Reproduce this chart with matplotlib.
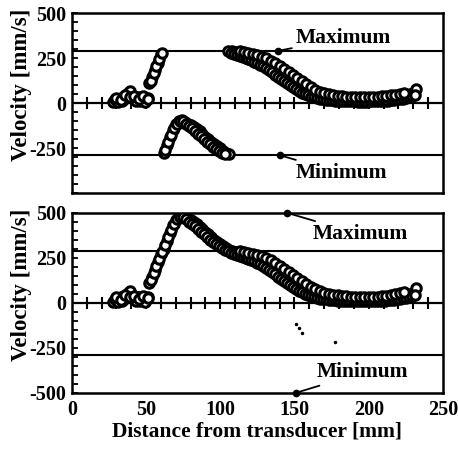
import matplotlib.pyplot as plt
from matplotlib.ticker import MultipleLocator

# distance from transducer [mm], first sweep
distance = [28, 30, 32, 34, 36, 38, 40, 42, 44, 46, 48, 50, 52, 54, 56, 58, 60,
            62, 64, 66, 68, 70, 72, 74, 76, 78, 80, 82, 84, 86, 88, 90, 92, 94,
            96, 98, 100, 102, 104, 106, 108, 110, 112, 114, 116, 118, 120, 122,
            124, 126, 128, 130, 132, 134, 136, 138, 140, 142, 144, 146, 148, 150,
            152, 154, 156, 158, 160, 162, 164, 166, 168, 170, 172, 174, 176, 178,
            180, 182, 184, 186, 188, 190, 192, 194, 196, 198, 200, 202, 204, 206,
            208, 210, 212, 214, 216, 218, 220, 222, 224, 226, 228, 230, 232]

# measured (aliased) velocity [mm/s], first sweep
velocity_raw = [5, 15, 25, 10, 35, 55, 45, 20, 30, 10, 25, 15, 110, 145, 185, 225, 275,
                -280, -235, -190, -150, -118, -100, -95, -105, -115, -122, -132, -144,
                -158, -172, -186, -200, -214, -228, -240, -252, -264, -276, -285,
                288, 285, 280, 276, 272, 266, 262, 256, 250, 244, 236, 228, 218, 208,
                198, 186, 174, 162, 150, 138, 126, 114, 102, 90, 80, 68, 58, 50, 44,
                40, 36, 33, 31, 29, 27, 26, 24, 22, 21, 20, 19, 18, 17, 16, 16, 15,
                15, 16, 17, 18, 19, 20, 22, 24, 26, 28, 31, 34, 38, 42, 48, 55, 80]

# corrected velocity [mm/s], first sweep
velocity_corrected = [5, 15, 25, 10, 35, 55, 45, 20, 30, 10, 25, 15, 110, 145, 185, 225, 270,
                      300, 345, 390, 430, 462, 480, 485, 475, 465, 458, 448, 436, 422,
                      408, 394, 380, 366, 352, 340, 328, 316, 304, 295, 288, 284, 280,
                      276, 272, 266, 262, 256, 250, 244, 236, 228, 218, 208, 198, 186,
                      174, 162, 150, 138, 126, 114, 102, 90, 80, 68, 58, 50, 44, 40, 36,
                      33, 31, 29, 27, 26, 24, 22, 21, 20, 19, 18, 17, 16, 16, 15, 15, 16,
                      17, 18, 19, 20, 22, 24, 26, 28, 31, 34, 38, 42, 48, 55, 80]

# second sweep
distance_b = [29, 31, 33, 35, 37, 39, 41, 43, 45, 47, 49, 51, 53, 55, 57, 59, 61,
              63, 65, 67, 69, 71, 73, 75, 77, 79, 81, 83, 85, 87, 89, 91, 93, 95,
              97, 99, 101, 103, 105, 107, 109, 111, 113, 115, 117, 119, 121, 123,
              125, 127, 129, 131, 133, 135, 137, 139, 141, 143, 145, 147, 149, 151,
              153, 155, 157, 159, 161, 163, 165, 167, 169, 171, 173, 175, 177, 179,
              181, 183, 185, 187, 189, 191, 193, 195, 197, 199, 201, 203, 205, 207,
              209, 211, 213, 215, 217, 219, 221, 223, 225, 227, 229, 231]

velocity_raw_b = [20, 5, 30, 20, 40, 65, 30, 10, 35, 20, 5, 30, 125, 165, 205, 245, 280,
                  -260, -215, -175, -140, -115, -102, -102, -115, -130, -140, -155, -170,
                  -185, -200, -215, -230, -242, -255, -265, -275, -284, 288, 278, 272,
                  266, 262, 256, 250, 244, 238, 230, 222, 214, 204, 194, 182, 170, 158,
                  146, 134, 122, 110, 98, 88, 78, 68, 58, 50, 42, 36, 31, 27, 24, 21,
                  19, 17, 15, 14, 13, 12, 11, 10, 10, 9, 9, 8, 8, 8, 8, 9, 9, 10, 11,
                  12, 13, 14, 16, 18, 20, 22, 25, 28, 32, 38, 45]

velocity_corrected_b = [20, 5, 30, 20, 40, 65, 30, 10, 35, 20, 5, 30, 125, 165, 205, 245, 280,
                        320, 365, 405, 440, 465, 478, 478, 465, 450, 440, 425, 410, 395,
                        380, 365, 350, 338, 325, 315, 305, 296, 288, 278, 272, 266, 262,
                        256, 250, 244, 238, 230, 222, 214, 204, 194, 182, 170, 158, 146,
                        134, 122, 110, 98, 88, 78, 68, 58, 50, 42, 36, 31, 27, 24, 21, 19,
                        17, 15, 14, 13, 12, 11, 10, 10, 9, 9, 8, 8, 8, 8, 9, 9, 10, 11, 12,
                        13, 14, 16, 18, 20, 22, 25, 28, 32, 38, 45]

# third sweep (within the unaliased range, same in both panels)
distance_c = [30, 33, 36, 39, 42, 45, 48, 51,
              113, 116, 119, 122, 125, 128, 131, 134, 137, 140, 143, 146, 149, 152,
              155, 158, 161, 164, 167, 170, 173, 176, 179, 182, 185, 188, 191, 194,
              197, 200, 203, 206, 209, 212, 215, 218, 221, 224]

velocity_c = [30, 15, 45, 35, 40, 20, 40, 25,
              288, 284, 278, 272, 266, 258, 248, 236, 222, 206, 190, 172, 155, 138,
              120, 104, 88, 75, 64, 56, 50, 45, 41, 38, 36, 34, 33, 32,
              32, 32, 33, 35, 37, 40, 43, 47, 52, 58]

spurious_x = [151, 153, 155, 177]
spurious_v = [-115, -140, -165, -218]

v_max = 290
v_min = -290
zero_ticks = [10, 20, 30, 40, 50, 60, 70, 80, 90, 100, 110, 120, 130, 140, 150, 160,
              170, 180, 190, 200, 210, 220, 230, 240]
x_ticks = [0, 50, 100, 150, 200, 250]

plt.rcParams['font.family'] = ['Liberation Serif', 'DejaVu Serif']
plt.rcParams['font.weight'] = 'bold'

fig = plt.figure(figsize=(4.58, 4.51), dpi=100)
ax1 = fig.add_axes([0.157, 0.572, 0.81, 0.399])
ax2 = fig.add_axes([0.157, 0.129, 0.81, 0.399])


def setup(ax, yticks):
    ax.set_xlim(0, 250)
    ax.set_ylim(-500, 500)
    for sp in ax.spines.values():
        sp.set_linewidth(1.8)
    ax.axhline(0, color='black', lw=1.6, zorder=1)
    ax.axhline(v_max, color='black', lw=1.5, zorder=1)
    ax.axhline(v_min, color='black', lw=1.5, zorder=1)
    ax.plot(zero_ticks, [0] * len(zero_ticks), ls='none', marker='|',
            ms=8, mew=1.5, color='black', zorder=1)
    ax.set_yticks(yticks)
    ax.set_yticklabels([str(t) for t in yticks])
    ax.yaxis.set_minor_locator(MultipleLocator(50))
    ax.tick_params(axis='y', which='both', direction='in', length=4, width=1.3,
                   labelsize=14.5, pad=4)
    ax.set_ylabel("Velocity [mm/s]", fontsize=16.5, fontweight='bold')
    ax.yaxis.set_label_coords(-0.108, 0.6)


def scatter(ax, x, v):
    ax.plot(x, v, ls='none', marker='o', ms=6.8, mfc='white',
            mec='black', mew=2.2, zorder=3)


def label(ax, text, xy, xytext):
    ax.plot(*xy, 'o', ms=4.5, color='black', clip_on=False, zorder=5)
    ax.annotate(text, xy=xy, xytext=xytext, ha='left', va='center',
                fontsize=15.5, fontweight='bold', annotation_clip=False,
                arrowprops=dict(arrowstyle='-', lw=1.3, color='black',
                                shrinkA=1, shrinkB=0))


setup(ax1, [500, 250, 0, -250])
scatter(ax1, distance, velocity_raw)
scatter(ax1, distance_b, velocity_raw_b)
scatter(ax1, distance_c, velocity_c)
ax1.set_xticks(x_ticks)
ax1.tick_params(axis='x', length=0, labelbottom=False)
label(ax1, "Maximum", (139, v_max), (151, 362))
label(ax1, "Minimum", (140, v_min), (151, -389))

setup(ax2, [500, 250, 0, -250, -500])
scatter(ax2, distance, velocity_corrected)
scatter(ax2, distance_b, velocity_corrected_b)
scatter(ax2, distance_c, velocity_c)
ax2.plot(spurious_x, spurious_v, ls='none', marker='o', ms=1.5, color='black')
ax2.set_xticks(x_ticks)
ax2.tick_params(axis='x', length=0, labelsize=14.5, pad=5)
ax2.set_xlabel("Distance from transducer [mm]", fontsize=15.5, fontweight='bold',
               labelpad=1)
label(ax2, "Maximum", (145, 500), (162, 381))
label(ax2, "Minimum", (151, -500), (165, -387))

fig.savefig("out.png", dpi=100)
